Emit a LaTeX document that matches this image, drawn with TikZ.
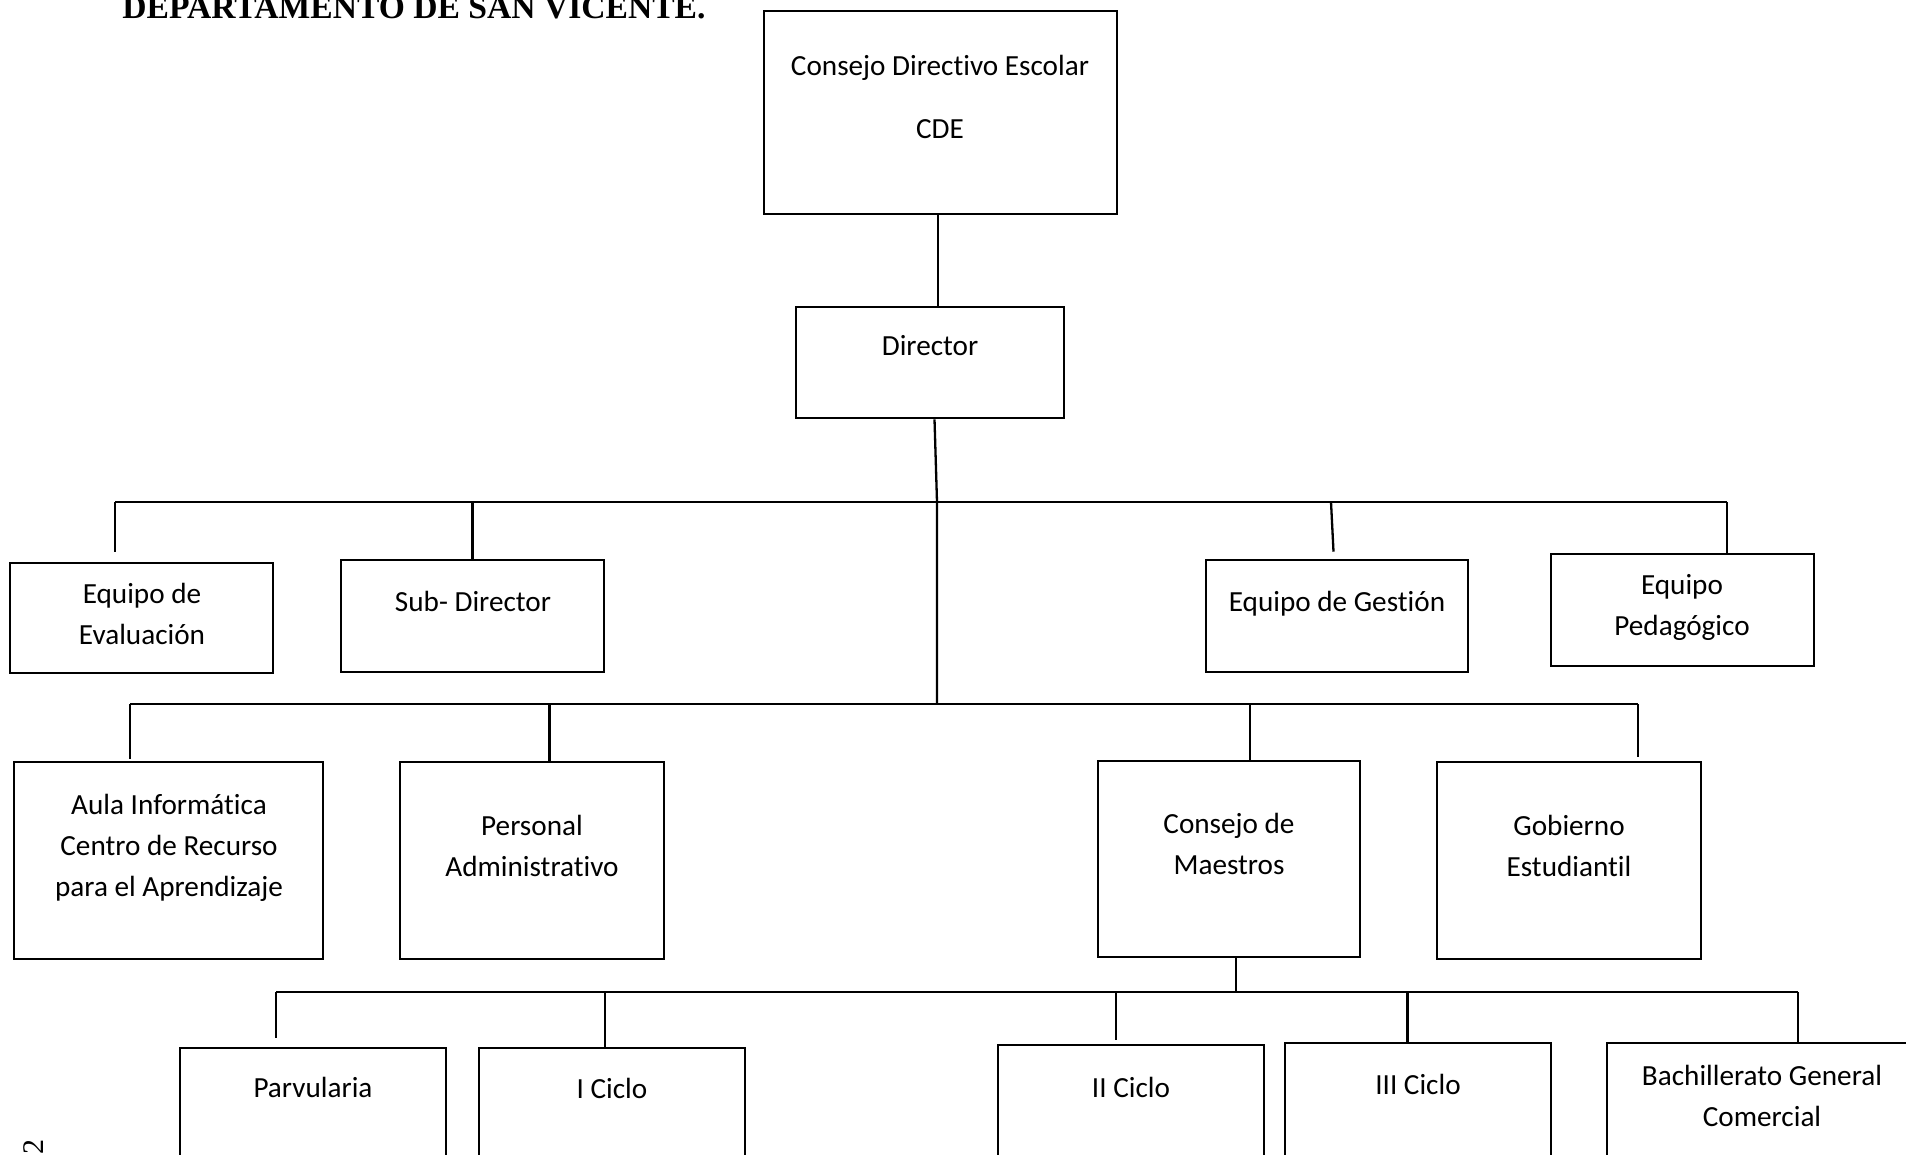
\documentclass[tikz,border=0pt]{standalone}
\usepackage{fontspec}
\setmainfont{Carlito}[Ligatures=NoCommon]
\newfontfamily\titlefont{Liberation Serif}
\usetikzlibrary{fit}
\begin{document}
\begin{tikzpicture}[x=0.5pt,y=-0.5pt,
  box/.style={draw, line width=1.3pt, inner sep=0pt},
  txt/.style={anchor=base, align=center, inner sep=0pt, font=\fontsize{14.6}{20.5}\selectfont},
  conn/.style={line width=1.15pt}]
\useasboundingbox (0,0) rectangle (1906,1155);

% title and page number
\node[anchor=base west, inner sep=0pt, font=\titlefont\bfseries\fontsize{16.8}{16.8}\selectfont] (title) at (122,19) {DEPARTAMENTO DE SAN VICENTE.};
\node[rotate=90, inner sep=0pt, font=\titlefont\fontsize{15}{15}\selectfont] (pg) at (34,1147) {2};

% boxes
\node[box, fit={(764,11) (1117,214)}] (cde) {};
\node[box, fit={(796,307) (1064,418)}] (dir) {};
\node[box, fit={(10,563) (273,673)}] (eval) {};
\node[box, fit={(341,560) (604,672)}] (sub) {};
\node[box, fit={(1206,560) (1468,672)}] (gest) {};
\node[box, fit={(1551,554) (1814,666)}] (ped) {};
\node[box, fit={(14,762) (323,959)}] (aula) {};
\node[box, fit={(400,762) (664,959)}] (pers) {};
\node[box, fit={(1098,761) (1360,957)}] (cons) {};
\node[box, fit={(1437,762) (1701,959)}] (gob) {};
\node[box, fit={(180,1048) (446,1220)}] (parv) {};
\node[box, fit={(479,1048) (745,1220)}] (ic1) {};
\node[box, fit={(998,1045) (1264,1220)}] (ic2) {};
\node[box, fit={(1285,1043) (1551,1220)}] (ic3) {};
\node[box, fit={(1607,1043) (1916,1220)}] (bach) {};

% texts (anchor = baseline of the last line)
\node[txt] (tcde) at (940,139) {Consejo Directivo Escolar\\[11pt]CDE};
\node[txt] (tdir) at (930,356) {Director};
\node[txt] (teval) at (142,644) {Equipo de\\Evaluación};
\node[txt] (tsub) at (473,611) {Sub- Director};
\node[txt] (tgest) at (1337,611) {Equipo de Gestión};
\node[txt] (tped) at (1682,635) {Equipo\\Pedagógico};
\node[txt] (taula) at (169,896) {Aula Informática\\Centro de Recurso\\para el Aprendizaje};
\node[txt] (tpers) at (532,876) {Personal\\Administrativo};
\node[txt] (tcons) at (1229,874) {Consejo de\\Maestros};
\node[txt] (tgob) at (1569,876) {Gobierno\\Estudiantil};
\node[txt] (tparv) at (313,1097) {Parvularia};
\node[txt] (tic1) at (612,1098) {I Ciclo};
\node[txt] (tic2) at (1131,1097) {II Ciclo};
\node[txt] (tic3) at (1418,1094) {III Ciclo};
\node[txt] (tbach) at (1762,1126) {Bachillerato General\\Comercial};

% spine
\coordinate (sp) at (938,0);
\draw[conn] (sp |- cde.south) -- (sp |- dir.north);
\coordinate (b1) at (937,502);
\coordinate (b2) at (937,704);
\draw[conn] ([xshift=2.25pt]dir.south) -- (b1) -- (b2);

% first bus
\coordinate (b1L) at (115,502);
\coordinate (b1R) at (1727,502);
\coordinate (g1) at (1331,502);
\draw[conn] (b1L) -- (b1R);
\draw[conn, shorten >=5pt] (b1L) -- (b1L |- eval.north);
\draw[conn] (b1L -| sub.north) -- (sub.north);
\draw[conn] (g1) -- ([xshift=-1.75pt,yshift=3.5pt]gest.north);
\draw[conn] (b1R) -- (b1R |- ped.north);

% second bus
\coordinate (b2L) at (130,704);
\coordinate (b2R) at (1638,704);
\coordinate (p2) at (549.5,704);
\coordinate (c2) at (1250,704);
\draw[conn] (b2L) -- (b2R);
\draw[conn, shorten >=1pt] (b2L) -- (b2L |- aula.north);
\draw[conn] (p2) -- (p2 |- pers.north);
\draw[conn] (c2) -- (c2 |- cons.north);
\draw[conn, shorten >=2pt] (b2R) -- (b2R |- gob.north);

% third bus
\coordinate (b3m) at (1236,992);
\coordinate (b3L) at (276,992);
\coordinate (b3R) at (1798,992);
\coordinate (i1) at (605,992);
\coordinate (i2) at (1116,992);
\coordinate (i3) at (1407.5,992);
\draw[conn] (b3m |- cons.south) -- (b3m);
\draw[conn] (b3L) -- (b3R);
\draw[conn, shorten >=4.5pt] (b3L) -- (b3L |- parv.north);
\draw[conn] (i1) -- (i1 |- ic1.north);
\draw[conn, shorten >=2pt] (i2) -- (i2 |- ic2.north);
\draw[conn] (i3) -- (i3 |- ic3.north);
\draw[conn] (b3R) -- (b3R |- bach.north);
\end{tikzpicture}
\end{document}
